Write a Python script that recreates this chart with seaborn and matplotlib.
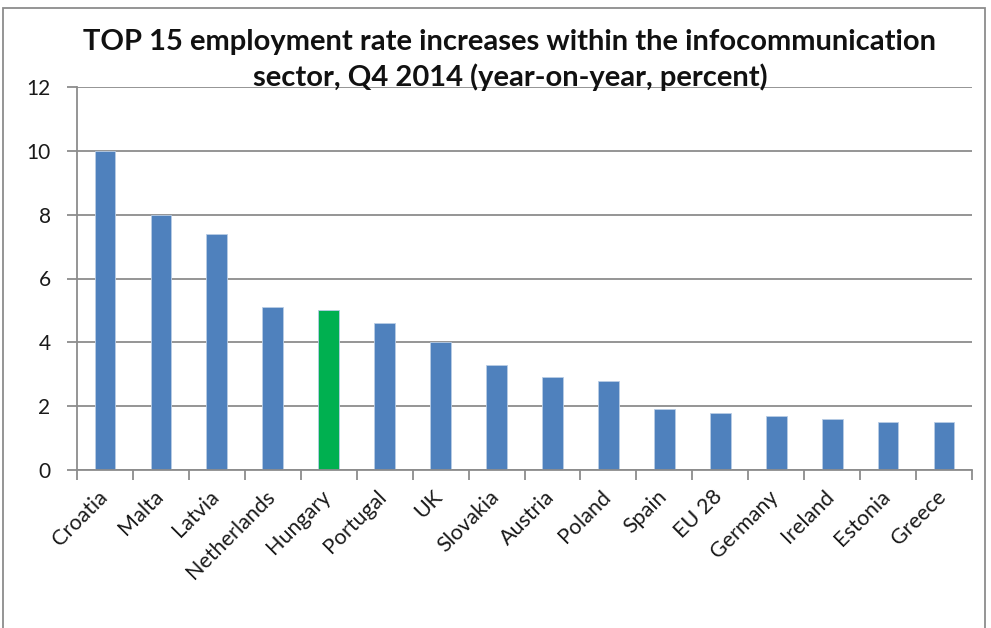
import matplotlib
matplotlib.use("Agg")
import matplotlib.pyplot as plt
import matplotlib.transforms as mtransforms
import seaborn as sns
import numpy as np
from matplotlib.patches import Rectangle

countries = ["Croatia", "Malta", "Latvia", "Netherlands", "Hungary", "Portugal", "UK",
             "Slovakia", "Austria", "Poland", "Spain", "EU 28", "Germany", "Ireland",
             "Estonia", "Greece"]
values = [10.0, 8.0, 7.4, 5.1, 5.0, 4.6, 4.0, 3.3, 2.9, 2.8, 1.9, 1.8, 1.7, 1.6, 1.5, 1.5]
highlight = "Hungary"
yticks = [0, 2, 4, 6, 8, 10, 12]
title_lines = ["TOP 15 employment rate increases within the infocommunication",
               "sector, Q4 2014 (year-on-year, percent)"]

sns.set_theme(style="white")
plt.rcParams['font.family'] = ['Lato', 'DejaVu Sans']

blue = "#4F81BD"
green = "#00B050"
palette = {c: (green if c == highlight else blue) for c in countries}

fig = plt.figure(figsize=(9.91, 6.28), dpi=100)
ax = fig.add_axes([77/991, 1-470/628, (972-77)/991, (470-87)/628])

sns.barplot(x=countries, y=values, hue=countries, palette=palette, legend=False,
            width=0.37, ax=ax, edgecolor="#B9CDE5", linewidth=0.6, saturation=1)

ax.set_ylim(0, 12)
ax.set_xlim(-0.5, len(countries) - 0.5)
ax.set_yticks(yticks)
ax.set_yticklabels([str(t) for t in yticks], fontsize=15)
ax.yaxis.grid(True, color="#8C8C8C", linewidth=1.3)
ax.set_axisbelow(True)

for s in ["top", "right"]:
    ax.spines[s].set_visible(False)
for s in ["left", "bottom"]:
    ax.spines[s].set_color("#8C8C8C")
    ax.spines[s].set_linewidth(1.3)

ax.tick_params(axis="y", which="major", left=True, length=7, width=1.3, color="#8C8C8C",
               pad=12, labelcolor="#1a1a1a")
ax.set_xticks(range(len(countries)))
ax.set_xticklabels(countries, rotation=45, ha="right", rotation_mode="anchor",
                   fontsize=15.5, color="#1a1a1a")
ax.tick_params(axis="x", which="major", bottom=False, length=0, pad=12)
offset = mtransforms.ScaledTranslation(-8/100, 0, fig.dpi_scale_trans)
for lbl in ax.get_xticklabels():
    lbl.set_transform(lbl.get_transform() + offset)
ax.set_xticks(np.arange(-0.5, len(countries), 1.0), minor=True)
ax.tick_params(axis="x", which="minor", bottom=True, length=7, width=1.3, color="#8C8C8C")
ax.set_xlabel("")
ax.set_ylabel("")

fig.text(509/991, 1-42/628, title_lines[0], ha="center", va="center",
         fontsize=21, fontweight="bold", color="#111111")
fig.text(510/991, 1-77/628, title_lines[1], ha="center", va="center",
         fontsize=21, fontweight="bold", color="#111111")

fig.patches.append(Rectangle((3/991, -0.01), (985-3)/991, 1 - 8/628 + 0.01,
                             transform=fig.transFigure, fill=False,
                             edgecolor="#8C8C8C", linewidth=1.3))

fig.savefig("out.png", dpi=100)
